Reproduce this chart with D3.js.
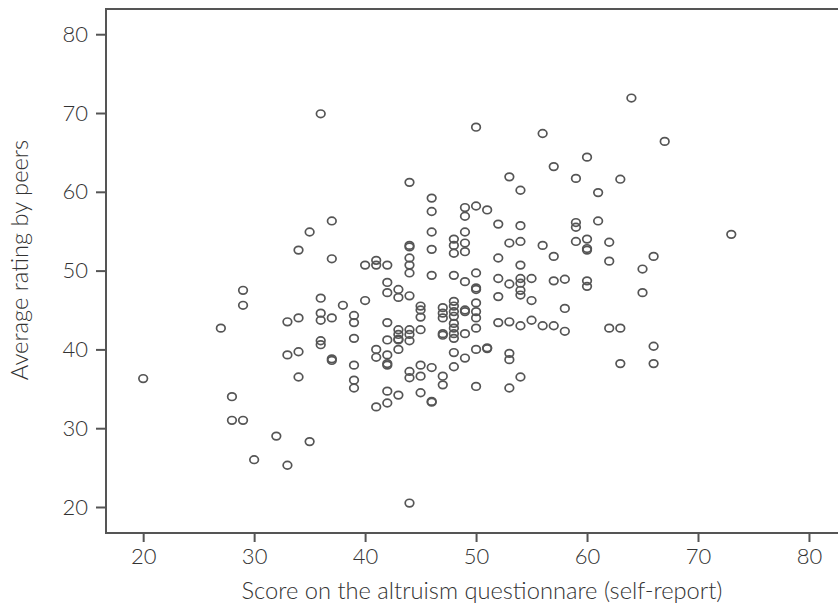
<!DOCTYPE html>
<html>
<head>
<meta charset="utf-8">
<script src="https://cdn.jsdelivr.net/npm/d3@7"></script>
<style>
  body { margin: 0; background: #fff; }
  svg { display: block; font-family: Lato, "Open Sans", sans-serif; }
  .tick text { fill: #333; font-size: 22px; font-weight: 300; }
  .axis-title { fill: #333; font-size: 23.7px; font-weight: 300; }
</style>
</head>
<body>
<div id="chart"></div>
<script>
// Altruism self-report score (x) vs. average peer rating (y), one entry per person
const scores = [
  20, 27, 28, 28, 29, 29, 29, 30, 32, 33, 33, 33,
  34, 34, 34, 34, 35, 35,
  36, 36, 36, 36, 36, 36,
  37, 37, 37, 37, 37, 38,
  39, 39, 39, 39, 39, 39, 40, 40,
  41, 41, 41, 41, 41,
  42, 42, 42, 42, 42, 42, 42, 42, 42, 42,
  43, 43, 43, 43, 43, 43, 43, 43,
  44, 44, 44, 44, 44, 44, 44, 44, 44, 44, 44, 44, 44,
  45, 45, 45, 45, 45, 45, 45,
  46, 46, 46, 46, 46, 46, 46, 46,
  47, 47, 47, 47, 47, 47, 47,
  48, 48, 48, 48, 48, 48, 48, 48, 48, 48, 48, 48, 48, 48,
  49, 49, 49, 49, 49, 49, 49, 49, 49, 49,
  50, 50, 50, 50, 50, 50, 50, 50, 50, 50, 50,
  51, 51, 51,
  52, 52, 52, 52, 52,
  53, 53, 53, 53, 53, 53, 53,
  54, 54, 54, 54, 54, 54, 54, 54, 54, 54,
  55, 55, 55, 56, 56, 56, 57, 57, 57, 57, 58, 58, 58,
  59, 59, 59, 59, 60, 60, 60, 60, 60, 60, 61, 61,
  62, 62, 62, 63, 63, 63, 64, 65, 65, 66, 66, 66, 67, 73
];
const ratings = [
  36.3, 42.7, 34.0, 31.0, 47.5, 45.6, 31.0, 26.0, 29.0, 43.5, 39.3, 25.3,
  52.6, 44.0, 39.7, 36.5, 54.9, 28.3,
  69.9, 46.5, 44.6, 43.7, 41.1, 40.6,
  56.3, 51.5, 44.0, 38.8, 38.6, 45.6,
  44.3, 43.4, 41.4, 38.0, 36.1, 35.1, 50.7, 46.2,
  51.3, 50.7, 40.0, 39.0, 32.7,
  50.7, 48.5, 47.2, 43.4, 41.2, 39.3, 38.0, 38.2, 34.7, 33.2,
  47.6, 46.6, 42.5, 41.9, 41.2, 41.3, 40.0, 34.2,
  61.2, 53.2, 53.0, 51.6, 50.7, 49.7, 46.8, 42.5, 41.9, 41.1, 37.2, 36.4, 20.5,
  45.5, 45.0, 44.1, 42.5, 38.0, 36.6, 34.5,
  59.2, 57.5, 54.9, 52.7, 49.4, 37.7, 33.4, 33.3,
  45.3, 44.6, 44.0, 42.0, 41.8, 36.6, 35.5,
  54.0, 53.2, 52.2, 49.4, 46.1, 45.5, 44.8, 44.2, 43.3, 42.7, 42.0, 41.4, 39.6, 37.8,
  58.0, 56.9, 54.9, 53.5, 52.4, 48.6, 45.0, 44.8, 42.0, 38.9,
  68.2, 58.2, 49.7, 47.8, 47.6, 45.9, 44.8, 44.0, 42.7, 40.0, 35.3,
  57.7, 40.2, 40.1,
  55.9, 51.6, 49.0, 46.7, 43.4,
  61.9, 53.5, 48.3, 43.5, 39.5, 38.7, 35.1,
  60.2, 55.7, 53.7, 50.7, 49.0, 48.4, 47.5, 46.9, 43.0, 36.5,
  49.0, 46.2, 43.7, 67.4, 53.2, 43.0, 63.2, 51.8, 48.7, 43.0, 48.9, 45.2, 42.3,
  61.7, 56.1, 55.5, 53.7, 64.4, 54.0, 52.8, 52.6, 48.7, 48.0, 59.9, 56.3,
  53.6, 51.2, 42.7, 61.6, 42.7, 38.2, 71.9, 50.2, 47.2, 51.8, 40.4, 38.2, 66.4, 54.6
];
const xTicks = [20, 30, 40, 50, 60, 70, 80];
const yTicks = [20, 30, 40, 50, 60, 70, 80];
const xTitle = "Score on the altruism questionnare (self-report)";
const yTitle = "Average rating by peers";

const width = 838, height = 607;
const margin = {top: 9, right: -22, bottom: 74, left: 106};

const svg = d3.select("#chart").append("svg")
  .attr("width", width)
  .attr("height", height);

const x = d3.scaleLinear()
  .domain([16.65, 84.6])
  .range([margin.left, width - margin.right]);

const y = d3.scaleLinear()
  .domain([16.7, 83.2])
  .range([height - margin.bottom, margin.top]);

// frame (right side runs past the picture edge)
svg.append("rect")
  .attr("x", margin.left)
  .attr("y", margin.top)
  .attr("width", width - margin.right - margin.left)
  .attr("height", height - margin.bottom - margin.top)
  .attr("fill", "none")
  .attr("stroke", "#555")
  .attr("stroke-width", 2);

const xAxis = svg.append("g")
  .attr("transform", `translate(0,${height - margin.bottom})`)
  .call(d3.axisBottom(x).tickValues(xTicks).tickSize(9).tickPadding(6));

const yAxis = svg.append("g")
  .attr("transform", `translate(${margin.left},0)`)
  .call(d3.axisLeft(y).tickValues(yTicks).tickSize(10).tickPadding(8));

[xAxis, yAxis].forEach(a => {
  a.attr("font-family", null).attr("font-size", null);
  a.select(".domain").remove();
  a.selectAll(".tick line").attr("stroke", "#555").attr("stroke-width", 2);
});

svg.append("text")
  .attr("class", "axis-title")
  .attr("x", 482)
  .attr("y", 599)
  .attr("text-anchor", "middle")
  .text(xTitle);

svg.append("text")
  .attr("class", "axis-title")
  .attr("transform", `translate(28,260) rotate(-90)`)
  .attr("text-anchor", "middle")
  .text(yTitle);

// points
svg.append("g")
  .selectAll("ellipse")
  .data(scores.map((s, i) => ({s, r: ratings[i]})))
  .join("ellipse")
  .attr("cx", d => x(d.s))
  .attr("cy", d => y(d.r))
  .attr("rx", 4.3)
  .attr("ry", 3.8)
  .attr("fill", "none")
  .attr("stroke", "#555")
  .attr("stroke-width", 1.7);
</script>
</body>
</html>
